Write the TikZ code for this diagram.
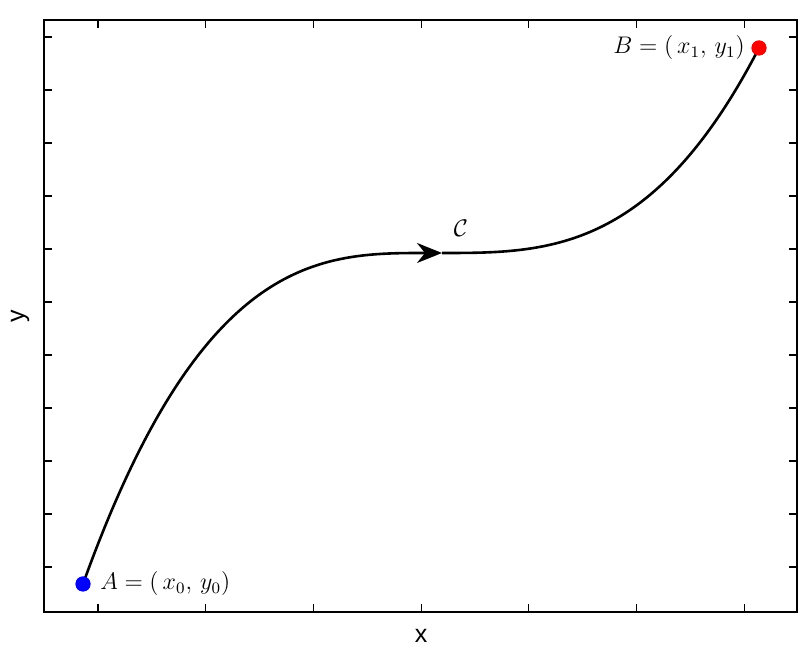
\documentclass[tikz,border=0pt]{standalone}
\usepackage{amsmath,amssymb}
\usepackage{fontspec}
\setsansfont{Liberation Sans}
\usepackage{tikz}
\usetikzlibrary{arrows.meta, positioning}

\definecolor{ptblue}{RGB}{0,0,255}
\definecolor{ptred}{RGB}{255,0,0}

\begin{document}
\begin{tikzpicture}[x=0.5pt, y=-0.5pt, >={Stealth[length=12.5pt, width=10pt, inset=4pt]},
	dot/.style={circle, fill, inner sep=0pt, minimum size=7.5pt},
	lbl/.style={font=\fontsize{11.5}{14}\selectfont, inner sep=0pt},
	axlbl/.style={font=\sffamily\fontsize{12.5}{15}\selectfont, inner sep=0pt},
	curve/.style={line width=1.3pt}]
	\useasboundingbox (0,0) rectangle (811,651);

	% frame and ticks
	\draw[line width=0.7pt] (44,20) rectangle (797,612);
	\foreach \tx in {0,...,6} {
		\draw[line width=0.6pt] (98+107.7*\tx,612) -- ++(0,-8);
		\draw[line width=0.6pt] (98+107.7*\tx,20) -- ++(0,8);
	}
	\foreach \ty in {0,...,10} {
		\draw[line width=0.6pt] (44,37+53*\ty) -- ++(8,0);
		\draw[line width=0.6pt] (797,37+53*\ty) -- ++(-8,0);
	}

	% axis labels
	\node[axlbl] (xl) at (421,636) {x};
	\node[axlbl, rotate=90] (yl) at (20,316) {y};

	% end points
	\coordinate (m) at (442,253);
	\node[dot, ptblue] (a) at (83,584) {};
	\node[dot, ptred] (b) at (759,48) {};
	\node[lbl, right=4.5pt of a] (al) {$A = (\,x_0,\, y_0)$};
	\node[lbl, left=3pt of b] (bl) {$B = (\,x_1,\, y_1)$};
	\node[lbl] (cl) at (461,228) {$\mathcal{C}$};

	% path C
	\draw[curve, ->] (a.center) .. controls (202,253) and (321,253) .. (m);
	\draw[curve] (m) .. controls (547,253) and (653,253) .. (b.center);
	\node[dot, ptblue] at (a) {};
	\node[dot, ptred] at (b) {};
\end{tikzpicture}
\end{document}
